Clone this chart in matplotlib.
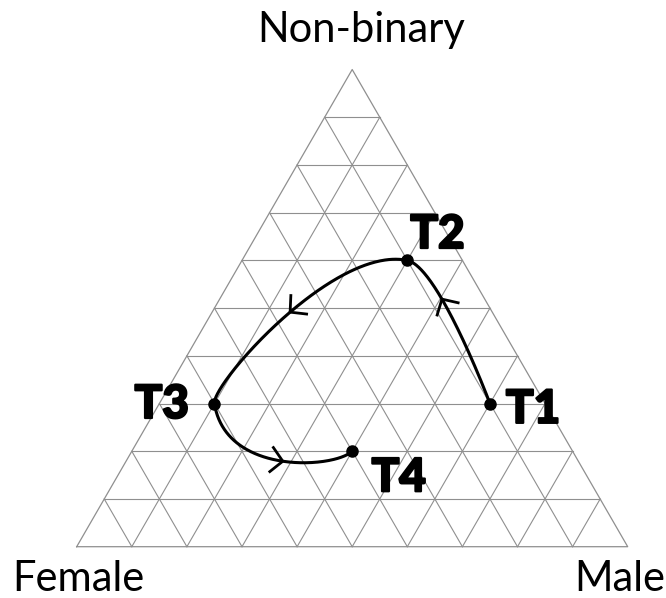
import numpy as np
import matplotlib
matplotlib.use('Agg')
import matplotlib.pyplot as plt
import matplotlib.patheffects as pe

# ternary data (female, male, non-binary shares)
labels = ['T1', 'T2', 'T3', 'T4']
female = [0.1, 0.1, 0.6, 0.4]
male = [0.6, 0.3, 0.1, 0.4]
nonbinary = [0.3, 0.6, 0.3, 0.2]
corner_names = ['Female', 'Male', 'Non-binary']
n_div = 10

H = np.sqrt(3) / 2
GRID_COL = '#8f8f8f'
# bezier handle scaling per point (in / out), relative to catmull-rom handles
HANDLE_IN = [0.0, 0.8, 0.6, 0.35]
HANDLE_OUT = [0.0, 1.55, 2.85, 0.0]
# where the direction chevrons sit on each segment (fraction of arc length)
ARROW_POS = [0.68, 0.52, 0.57]


def to_xy(m, nb):
    """ternary (male, non-binary) -> cartesian, side length 1"""
    m = np.asarray(m, float)
    nb = np.asarray(nb, float)
    return m + nb / 2, nb * H


def smooth_path(xs, ys, alpha=0.5):
    """centripetal catmull-rom (d3 style) with rescaled handles.
    the free end handle mirrors the previous start handle"""
    pts = np.column_stack([xs, ys])
    n = len(pts)
    segs = []
    for i in range(n - 1):
        p0 = pts[i - 1] if i > 0 else pts[i]
        p1 = pts[i]
        p2 = pts[i + 1]
        p3 = pts[i + 2] if i + 2 < n else pts[i + 1]
        l01a = np.linalg.norm(p1 - p0) ** alpha
        l12a = np.linalg.norm(p2 - p1) ** alpha
        l23a = np.linalg.norm(p3 - p2) ** alpha
        c1 = p1.copy()
        if l01a > 1e-12:
            a = 2 * l01a**2 + 3 * l01a * l12a + l12a**2
            nn = 3 * l01a * (l01a + l12a)
            c1 = p1 + HANDLE_OUT[i] * ((p1 * a - p0 * l12a**2 + p2 * l01a**2) / nn - p1)
        c2 = p2.copy()
        if l23a > 1e-12:
            b = 2 * l23a**2 + 3 * l23a * l12a + l12a**2
            mm = 3 * l23a * (l23a + l12a)
            c2 = p2 + HANDLE_IN[i + 1] * ((p2 * b + p1 * l23a**2 - p3 * l12a**2) / mm - p2)
        elif i > 0:
            h = c1 - p1
            u = (p2 - p1) / np.linalg.norm(p2 - p1)
            along = h @ u
            c2 = p2 + HANDLE_IN[i + 1] * (-along * u + (h - along * u))
        segs.append((p1, c1, c2, p2))
    return segs


def bezier(seg, t):
    p0, c1, c2, p1 = seg
    t = np.asarray(t)[:, None]
    return ((1 - t)**3 * p0 + 3 * (1 - t)**2 * t * c1
            + 3 * (1 - t) * t**2 * c2 + t**3 * p1)


fig = plt.figure(figsize=(6.66, 5.98), dpi=100)
ax = fig.add_axes([0, 0, 1, 1])
# 551 px per unit side, bottom-left corner at (76.7, 546.7) px
scale = 551.0
ax.set_xlim(-76.7 / scale, (666 - 76.7) / scale)
ax.set_ylim(-(598 - 546.7) / scale, 546.7 / scale)
ax.axis('off')

# grid
for k in range(1, n_div):
    v = k / n_div
    for (ma, na), (mb, nbb) in [((0, v), (1 - v, v)),
                                ((v, 0), (v, 1 - v)),
                                ((1 - v, 0), (0, 1 - v))]:
        xa, ya = to_xy(ma, na)
        xb, yb = to_xy(mb, nbb)
        ax.plot([xa, xb], [ya, yb], color=GRID_COL, lw=0.8, zorder=1)

# outline
ox, oy = to_xy([0, 1, 0, 0], [0, 0, 1, 0])
ax.plot(ox, oy, color=GRID_COL, lw=0.9, zorder=1)

# trajectory
px, py = to_xy(male, nonbinary)
segs = smooth_path(px, py)
ts = np.linspace(0, 1, 200)
curve = np.vstack([bezier(s, ts) for s in segs])
ax.plot(curve[:, 0], curve[:, 1], color='black', lw=2.2,
        solid_capstyle='round', zorder=3)

# open chevrons along each segment
arm = 18 / scale
ang = np.deg2rad(47)
for s, pos in zip(segs, ARROW_POS):
    sp = bezier(s, ts)
    arc = np.concatenate([[0], np.cumsum(np.linalg.norm(np.diff(sp, axis=0), axis=1))])
    j = int(np.searchsorted(arc, pos * arc[-1]))
    tip = sp[j]
    d = sp[j + 1] - sp[j - 1]
    u = -d / np.linalg.norm(d)
    for sgn in (1, -1):
        c, sn = np.cos(sgn * ang), np.sin(sgn * ang)
        r = np.array([u[0] * c - u[1] * sn, u[0] * sn + u[1] * c])
        end = tip + arm * r
        ax.plot([tip[0], end[0]], [tip[1], end[1]], color='black',
                lw=2.0, solid_capstyle='butt', zorder=3)

ax.plot(px, py, 'o', color='black', ms=8, zorder=4)

# point labels (offsets in points)
lab_off = {'T1': (11.5, -13.9, 'left'), 'T2': (2.2, 8.9, 'left'),
           'T3': (-18.5, -10.4, 'right'), 'T4': (14.0, -28.8, 'left')}
for lab, x, y in zip(labels, px, py):
    dx, dy, ha = lab_off[lab]
    ax.annotate(lab, (x, y), xytext=(dx, dy), textcoords='offset points',
                ha=ha, va='baseline', fontsize=33, fontweight='black',
                family='Lato', zorder=5,
                path_effects=[pe.withStroke(linewidth=1.6, foreground='black')])

# corner labels
cx, cy = to_xy([0, 1, 0], [0, 0, 1])
corner_off = [(-46.5, -36.9, 'left', 'bottom'), (-38.5, -36.9, 'left', 'bottom'),
              (6.6, 19.8, 'center', 'baseline')]
for name, x, y, (dx, dy, ha, va) in zip(corner_names, cx, cy, corner_off):
    ax.annotate(name, (x, y), xytext=(dx, dy), textcoords='offset points',
                ha=ha, va=va, fontsize=30, family='Lato')

fig.savefig('out.png', dpi=100)
